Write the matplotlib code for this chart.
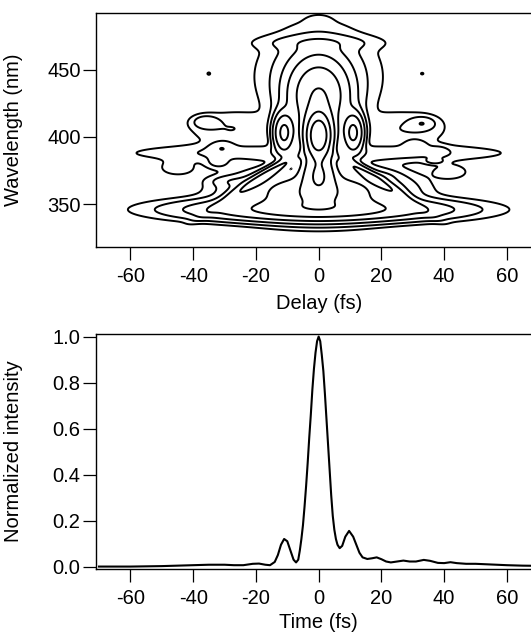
import numpy as np
import matplotlib
matplotlib.use("Agg")
import matplotlib.pyplot as plt

plt.rcParams['font.family'] = ['Liberation Sans', 'DejaVu Sans']
plt.rcParams['font.size'] = 14.5
plt.rcParams['axes.unicode_minus'] = False

# ---- bottom panel: retrieved temporal intensity
time_fs = [-70, -60, -50, -45, -40, -35, -30, -27, -24, -21, -19, -17, -15.5, -14, -13, -12,
           -11, -10, -9, -8, -7.2, -6.5, -6, -5.5, -5, -4.5, -4, -3.5, -3, -2.5, -2, -1.5, -1,
           -0.5, 0, 0.5, 1, 1.5, 2, 2.5, 3, 3.5, 4, 4.5, 5, 5.5, 6, 6.7, 7.5, 8.5, 9.7, 11, 12,
           13, 14, 15.5, 17, 18.5, 20, 21.5, 23, 25, 27, 29, 31, 33.5, 35.5, 38, 40, 42, 44, 47,
           50, 55, 60, 65, 71]
intensity = [0.0, 0.0, 0.002, 0.004, 0.006, 0.008, 0.008, 0.006, 0.006, 0.012, 0.013, 0.008,
             0.006, 0.02, 0.05, 0.095, 0.12, 0.11, 0.07, 0.03, 0.018, 0.03, 0.07, 0.12, 0.18,
             0.26, 0.35, 0.45, 0.56, 0.66, 0.77, 0.86, 0.93, 0.98, 1.0, 0.98, 0.92, 0.85, 0.75,
             0.64, 0.53, 0.42, 0.31, 0.22, 0.16, 0.12, 0.095, 0.08, 0.09, 0.13, 0.155, 0.13,
             0.095, 0.06, 0.04, 0.033, 0.036, 0.04, 0.032, 0.022, 0.018, 0.022, 0.026, 0.022,
             0.022, 0.029, 0.025, 0.016, 0.015, 0.019, 0.015, 0.012, 0.012, 0.009, 0.006,
             0.004, 0.003]

# ---- top panel: FROG trace described as lobes
# (delay centre fs, wavelength centre nm, delay width fs, wavelength width nm, amplitude,
#  tilt of the lobe in nm per fs)
lobe_delay = [0, 0, 0, 0, 0, 0, 0, 0, 0, -11, 11,
              -28, 28, -36, 33, -31, -32, -28, 31, 38, 37, 19,
              -17, 16, -35, 33, -45, 42]
lobe_wl = [401, 372, 430, 445, 470, 486, 358, 346, 388, 403, 403,
           406, 406, 411, 410, 392, 381, 367, 393, 389, 382, 370,
           371, 371, 447, 447, 377, 374]
lobe_wdelay = [2.4, 3.0, 5.0, 10, 11, 2.5, 12, 21, 30, 1.8, 1.8,
               8, 8, 2.5, 2.5, 2.5, 2.5, 4, 2.5, 2, 2, 3,
               8, 8, 0.6, 0.6, 4, 4]
lobe_wwl = [10, 9, 15, 20, 3.5, 3, 9, 4.5, 4, 8, 8,
            8, 8, 3, 3, 3, 3, 2.5, 3, 2.5, 1.5, 2.5,
            3, 3, 1.2, 1.0, 4, 4]
lobe_amp = [1.0, 0.3, 0.12, 0.008, 0.004, 0.0012, 0.12, 0.066, 0.0065, 0.15, 0.15,
            0.003, 0.003, 0.006, 0.006, 0.005, 0.004, 0.004, 0.005, 0.004, 0.004, 0.006,
            0.06, 0.05, 0.0013, 0.0012, 0.002, 0.002]
lobe_tilt = [0, 0, 0, 0, 0, 0, 0, 0, 0, 0, 0,
             0, 0, 0, 0, 0, 0, 0, 0, 0, 0, 0,
             1.4, -1.4, 0, 0, 0, 0]
contour_levels = [0.001, 0.003, 0.008, 0.02, 0.05, 0.12, 0.3, 0.6]

delay = np.arange(-75, 75.01, 0.3)
wl = np.arange(315, 496, 0.3)
D, W = np.meshgrid(delay, wl)
Z = np.zeros_like(D)
for d0, w0, sd, sw, a, k in zip(lobe_delay, lobe_wl, lobe_wdelay, lobe_wwl, lobe_amp, lobe_tilt):
    centre = w0 + k * (D - d0)
    Z += a * np.exp(-0.5 * ((D - d0) / sd) ** 2 - 0.5 * ((W - centre) / sw) ** 2)

fig = plt.figure(figsize=(5.31, 6.32), dpi=100)
ax1 = fig.add_axes([0.1817, 0.6092, 0.8368, 0.371])
ax2 = fig.add_axes([0.1817, 0.1000, 0.8368, 0.372])

ax1.contour(D, W, Z, levels=contour_levels, colors='black', linewidths=1.4)
ax1.set_xlim(-70.8, 70.8)
ax1.set_ylim(318.2, 492.4)
ax1.set_yticks([350, 400, 450])
ax1.set_xticks([-60, -40, -20, 0, 20, 40, 60])
ax1.set_xlabel('Delay (fs)')
ax1.set_ylabel('Wavelength (nm)')

ax2.plot(time_fs, intensity, color='black', linewidth=1.5)
ax2.set_xlim(-70.8, 70.8)
ax2.set_ylim(-0.0097, 1.0125)
ax2.set_yticks([0.0, 0.2, 0.4, 0.6, 0.8, 1.0])
ax2.set_yticklabels(['0.0', '0.2', '0.4', '0.6', '0.8', '1.0'])
ax2.set_xticks([-60, -40, -20, 0, 20, 40, 60])
ax2.set_xlabel('Time (fs)')
ax2.set_ylabel('Normalized intensity')

for ax in (ax1, ax2):
    for sp in ax.spines.values():
        sp.set_linewidth(1.0)
    ax.tick_params(direction='out', length=9.5, width=0.9)
    ax.tick_params(axis='x', pad=5)
    ax.tick_params(axis='y', pad=2)
    ax.yaxis.set_label_coords(-0.165, 0.5)
ax1.xaxis.set_label_coords(0.5, -0.20)
ax2.xaxis.set_label_coords(0.5, -0.19)

fig.savefig('out.png', dpi=100)
